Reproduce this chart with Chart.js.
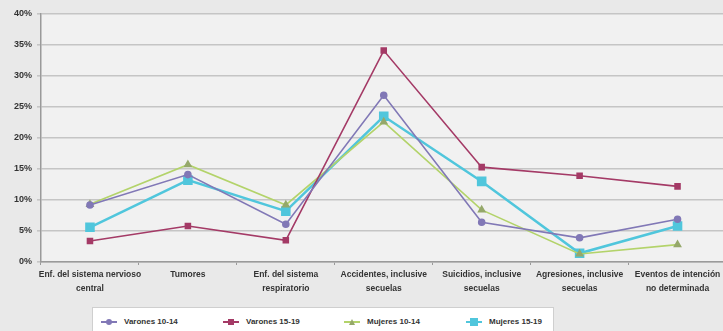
<!DOCTYPE html>
<html>
<head>
<meta charset="utf-8">
<script src="https://cdn.jsdelivr.net/npm/chart.js@4/dist/chart.umd.min.js"></script>
<style>
  html,body{margin:0;padding:0;background:#e9e9e9;overflow:hidden;}
  #wrap{position:relative;width:723px;height:331px;overflow:hidden;}
  #c{position:absolute;left:0;top:0;}
  #legend{position:absolute;left:92px;top:307px;width:460px;height:30px;background:#fff;border:1px solid #cfcfcf;
    font-family:"Liberation Sans Narrow","Liberation Sans",Arial,sans-serif;font-weight:bold;font-size:8px;color:#333;}
  .item{position:absolute;top:9px;height:10px;line-height:10px;white-space:nowrap;}
  .sym{position:absolute;left:0;top:4px;width:16px;height:2px;}
  .mk{position:absolute;left:5px;top:-2px;width:6px;height:6px;}
  .txt{position:absolute;left:23px;top:0;}
</style>
</head>
<body>
<div id="wrap">
  <canvas id="c" width="734" height="331"></canvas>
  <div id="legend"></div>
</div>
<script>
const categories = [
  ["Enf. del sistema nervioso", "central"],
  ["Tumores"],
  ["Enf. del sistema", "respiratorio"],
  ["Accidentes, inclusive", "secuelas"],
  ["Suicidios, inclusive", "secuelas"],
  ["Agresiones, inclusive", "secuelas"],
  ["Eventos de intención", "no determinada"]
];
const seriesNames = ["Varones 10-14", "Varones 15-19", "Mujeres 10-14", "Mujeres 15-19"];
const varones1014 = [9.2, 14.1, 6.1, 26.9, 6.4, 3.9, 6.9];
const varones1519 = [3.4, 5.8, 3.5, 34.1, 15.3, 13.9, 12.2];
const mujeres1014 = [9.3, 15.7, 9.2, 22.6, 8.4, 1.3, 2.8];
const mujeres1519 = [5.6, 13.2, 8.2, 23.5, 13.0, 1.4, 5.8];
const yTicks = [0, 5, 10, 15, 20, 25, 30, 35, 40];

const styles = [
  {color:"#8178b6", point:"circle", r:3, shape:"circle"},
  {color:"#a43a66", point:"rect", r:3.5, shape:"rect"},
  {color:"#b3d36a", point:"triangle", r:3.5, shape:"tri", fill:"#95a86a"},
  {color:"#50c6dc", point:"rect", r:5, shape:"rect", w:2.5}
];
const allData = [varones1014, varones1519, mujeres1014, mujeres1519];

const bgPlugin = {
  id:"bg",
  beforeDraw(chart){
    const {ctx, chartArea:a} = chart;
    ctx.save();
    ctx.fillStyle = "#e9e9e9";
    ctx.fillRect(0,0,chart.width,chart.height);
    ctx.fillStyle = "#f1f1f1";
    ctx.fillRect(a.left, a.top, a.right-a.left, a.bottom-a.top);
    ctx.restore();
  }
};

const fontFam = '"Liberation Sans Narrow","Liberation Sans",Arial,sans-serif';

new Chart(document.getElementById("c"), {
  type:"line",
  data:{
    labels: categories,
    datasets: allData.map((d,i)=>({
      label: seriesNames[i],
      data: d,
      borderColor: styles[i].color,
      backgroundColor: styles[i].fill || styles[i].color,
      pointBackgroundColor: styles[i].fill || styles[i].color,
      pointBorderColor: styles[i].fill || styles[i].color,
      pointStyle: styles[i].point,
      pointRadius: styles[i].r,
      borderWidth: styles[i].w || 1.6,
      tension: 0
    }))
  },
  options:{
    responsive:false,
    animation:false,
    layout:{padding:{top:14,right:0,left:0,bottom:0}},
    plugins:{legend:{display:false}, tooltip:{enabled:false}},
    scales:{
      x:{
        offset:true,
        grid:{display:true, drawOnChartArea:false, offset:true, tickLength:3, color:"#9a9a9a"},
        border:{color:"#9a9a9a", width:1.5},
        ticks:{font:{family:fontFam, weight:"bold", size:8.5, lineHeight:1.6}, color:"#333", maxRotation:0, autoSkip:false, padding:3},
        afterFit(s){ s.height = 69; }
      },
      y:{
        min:0, max:40,
        afterBuildTicks(s){ s.ticks = yTicks.map(v=>({value:v})); },
        grid:{color:"#c5c5c5", lineWidth:1.6, tickLength:4, drawTicks:true},
        border:{color:"#9a9a9a", width:1.5},
        ticks:{font:{family:fontFam, weight:"bold", size:9}, color:"#333", padding:5, callback:v=>v+"%"},
        afterFit(s){ s.width = 41; }
      }
    }
  },
  plugins:[bgPlugin]
});

// HTML legend
const lg = document.getElementById("legend");
const lefts = [8, 130, 251, 373];
seriesNames.forEach((n,i)=>{
  const it = document.createElement("div");
  it.className="item"; it.style.left = lefts[i]+"px";
  const sym = document.createElement("div");
  sym.className="sym"; sym.style.background = styles[i].color;
  const mk = document.createElement("div");
  mk.className="mk";
  const c = styles[i].fill || styles[i].color;
  if(styles[i].shape==="circle"){ mk.style.background=c; mk.style.borderRadius="50%"; }
  else if(styles[i].shape==="rect"){ mk.style.background=c; if(i===3){mk.style.width="8px";mk.style.height="8px";mk.style.left="4px";mk.style.top="-3px";} }
  else { mk.style.width="0";mk.style.height="0";mk.style.borderLeft="3px solid transparent";mk.style.borderRight="3px solid transparent";mk.style.borderBottom="6px solid "+c; }
  sym.appendChild(mk);
  const t = document.createElement("div");
  t.className="txt"; t.textContent = n;
  it.appendChild(sym); it.appendChild(t);
  lg.appendChild(it);
});
</script>
</body>
</html>
